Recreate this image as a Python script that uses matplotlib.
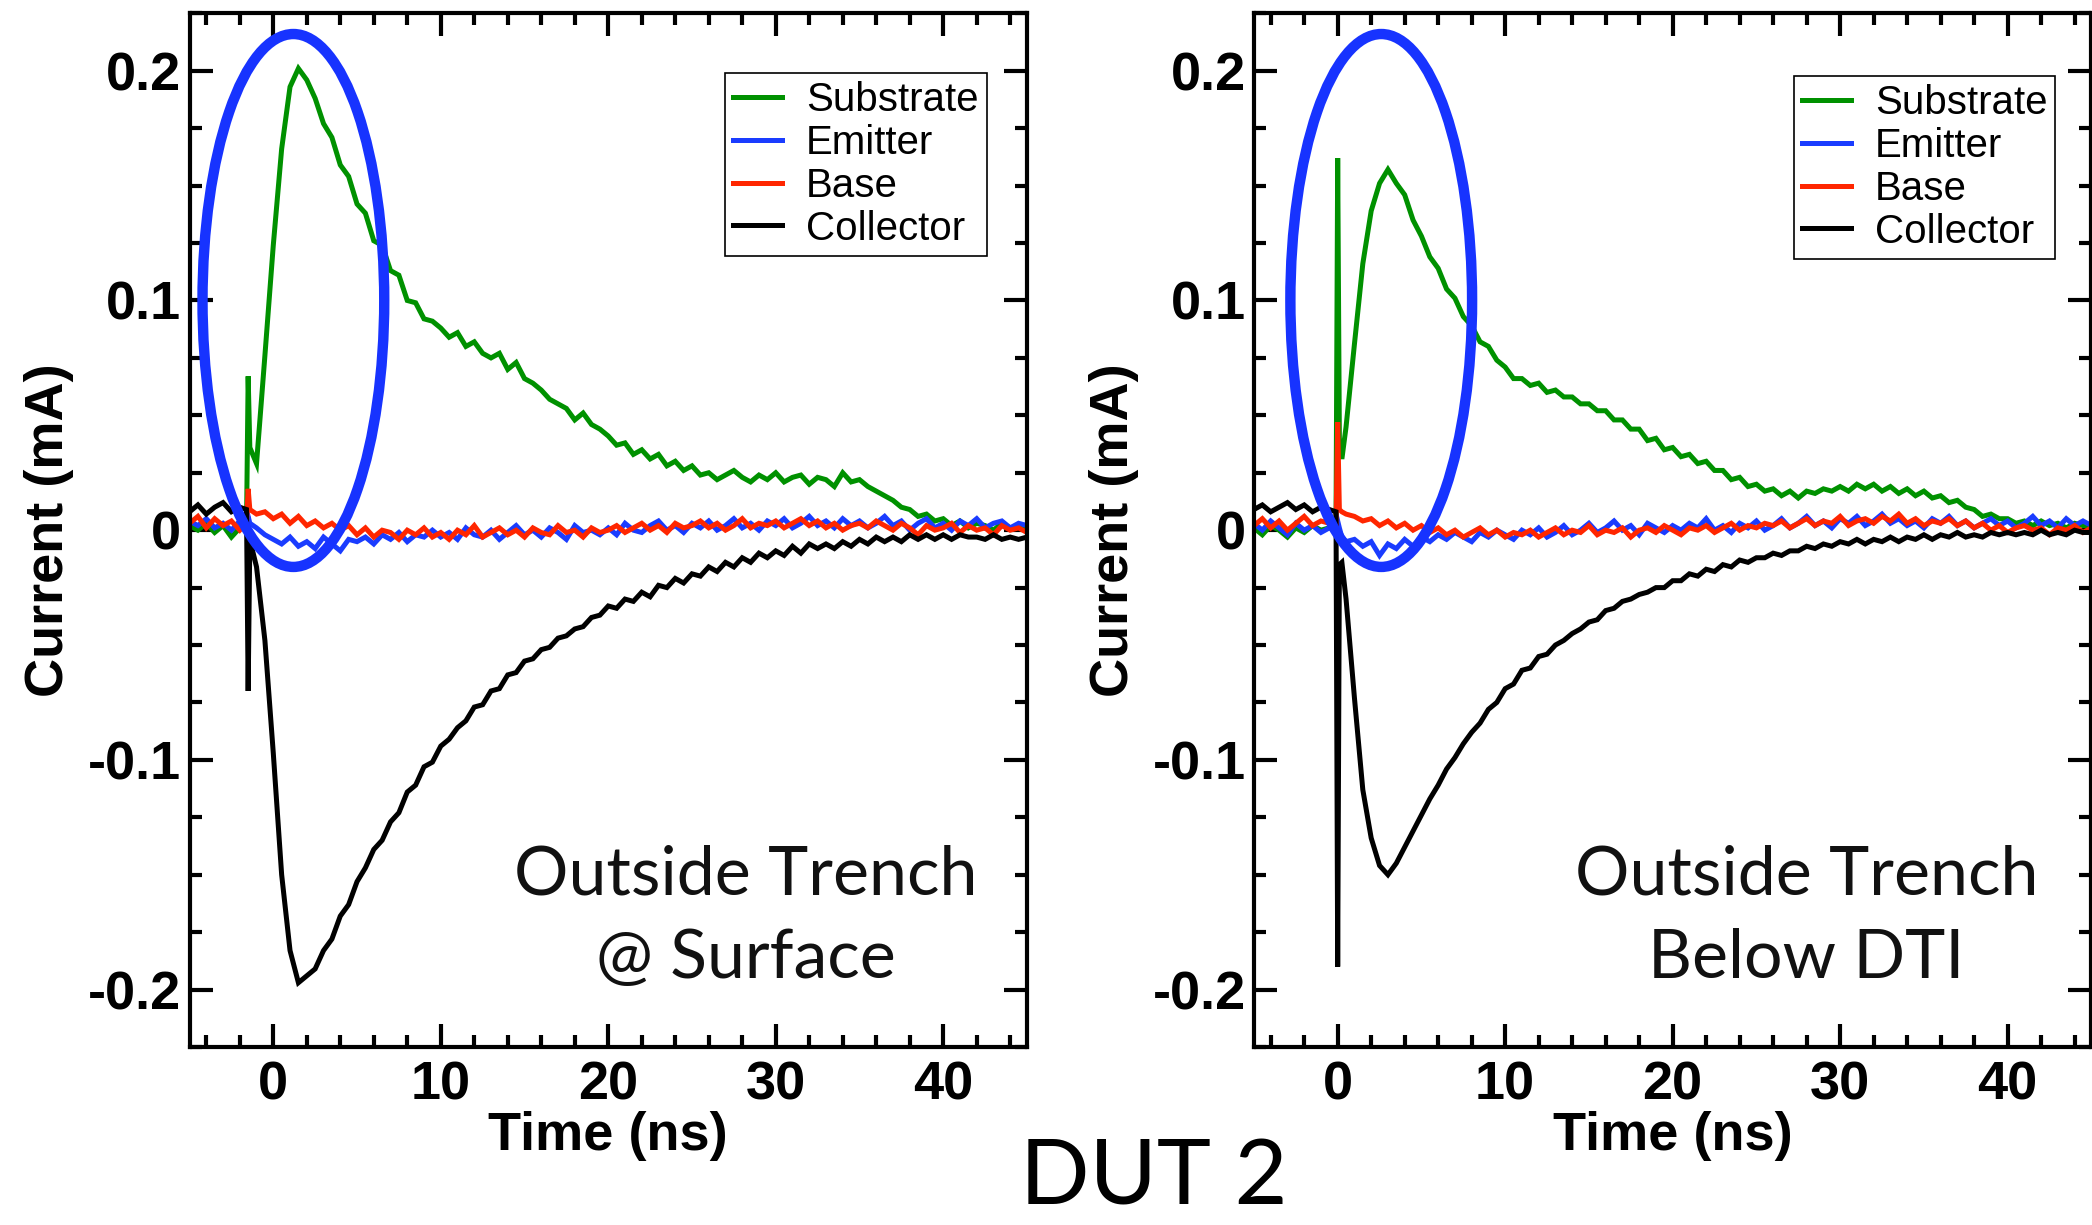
import numpy as np
import matplotlib
matplotlib.use("Agg")
import matplotlib.pyplot as plt
from matplotlib.patches import Ellipse
from matplotlib.ticker import MultipleLocator

# colours
GREEN = "#009100"
BLUE = "#1a3cff"
RED = "#ff2600"
BLACK = "#000000"
RING = "#1733ff"

labels = ["Substrate", "Emitter", "Base", "Collector"]

# ---------------- left panel (Outside Trench @ Surface) ----------------
# time grid in ns; values below are in units of 1e-3 mA
t_left = np.r_[np.arange(-5.0, -1.9, 0.5), [-1.6, -1.5, -1.4, -1.0, -0.5], np.arange(0.0, 45.1, 0.5)]

sub_left = [2, 0, 3, -1, 2, -3, 1,
            1, 67, 36, 29, 76,
            124, 166, 193, 201, 196, 188, 177, 171, 159, 154,
            142, 138, 126, 124, 113, 111, 100, 99, 92, 91,
            88, 84, 86, 80, 82, 77, 75, 77, 70, 73,
            66, 64, 61, 57, 55, 53, 48, 51, 46, 44,
            41, 37, 38, 33, 35, 31, 33, 28, 30, 26,
            28, 24, 25, 22, 24, 26, 23, 21, 24, 22,
            25, 21, 23, 24, 20, 23, 22, 19, 25, 21,
            22, 19, 17, 15, 13, 10, 9, 6, 7, 4,
            5, 2, 4, 1, 3, 2, 0, 3, 1, 2, 1]

emi_left = [4, 2, 5, 1, 3, 0, 4,
            2, 6, 3, 1, -2,
            -4, -6, -3, -7, -5, -8, -3, -6, -9, -4,
            -5, -3, -6, -2, -4, -1, -5, -2, -3, 0,
            -3, -1, -4, 1, -2, -3, 0, -4, -1, 2,
            -2, 0, -3, 1, -1, -4, 2, -1, 0, -2,
            1, -2, 3, 0, -1, 2, 4, 0, 2, -1,
            3, 1, 4, 0, 2, 5, 1, 3, 0, 4,
            2, 5, 1, 3, 6, 2, 4, 1, 5, 2,
            4, 1, 3, 6, 2, 4, 0, 3, 5, 1,
            3, 0, 4, 2, 5, 1, 3, 4, 1, 3, 2]

base_left = [3, 6, 1, 5, 2, 4, 0,
             3, 18, 9, 7, 8,
             5, 7, 3, 6, 2, 4, 1, 3, 0, 2,
             -2, 1, -3, 0, -1, -4, 0, -2, 1, -3,
             -1, -4, 0, -2, 2, -3, -1, 1, -2, 0,
             -3, 1, -1, -2, 2, -1, 0, -3, 1, -1,
             0, 2, -1, 1, 3, 0, 2, -1, 3, 1,
             2, 4, 1, 3, 0, 2, 5, 1, 3, 2,
             4, 1, 3, 5, 2, 4, 1, 3, 0, 2,
             3, 1, 4, 2, 0, 3, 1, -2, 2, 0,
             1, 3, -1, 2, 0, 1, -2, 2, 0, 1, -1]

col_left = [8, 11, 7, 10, 12, 8, 10,
            9, -70, -4, -16, -48,
            -97, -150, -183, -197, -194, -191, -183, -178, -168, -163,
            -153, -147, -139, -135, -127, -123, -114, -111, -103, -101,
            -94, -91, -86, -83, -77, -76, -70, -69, -63, -62,
            -57, -56, -52, -51, -47, -46, -43, -42, -38, -37,
            -33, -34, -30, -31, -27, -29, -24, -25, -21, -23,
            -19, -20, -16, -18, -14, -16, -12, -14, -10, -12,
            -9, -11, -7, -10, -6, -8, -6, -8, -5, -7,
            -4, -6, -3, -5, -3, -5, -2, -4, -2, -4,
            -2, -4, -2, -3, -3, -4, -2, -4, -3, -4, -3]

# ---------------- right panel (Outside Trench Below DTI) ----------------
t_right = np.r_[np.arange(-5.0, -0.4, 0.5), [-0.1, 0.0, 0.1, 0.25, 0.5], np.arange(1.0, 45.1, 0.5)]

sub_right = [1, -2, 2, 0, -3, 1, -1, 2, 0, 1,
             2, 162, 40, 31, 45,
             81, 116, 139, 151, 157, 151, 146, 135, 128, 119,
             114, 105, 101, 93, 89, 82, 80, 74, 71, 66,
             66, 63, 64, 60, 61, 58, 58, 55, 55, 52,
             52, 48, 48, 44, 44, 39, 40, 35, 36, 32,
             33, 29, 30, 26, 26, 22, 23, 19, 20, 17,
             18, 15, 17, 14, 17, 16, 18, 17, 19, 17,
             20, 18, 20, 17, 19, 16, 18, 15, 17, 14,
             15, 12, 13, 10, 9, 6, 7, 5, 5, 3,
             4, 2, 4, 2, 3, 1, 3, 2, 2]

emi_right = [3, 0, 4, 1, -2, 3, 0, 2, -1, 1,
             2, 4, 1, -3, -5,
             -4, -7, -5, -11, -6, -8, -4, -7, -3, -5,
             -2, -4, -1, -3, -5, -1, -3, 0, -2, -4,
             0, -2, 1, -3, -1, 2, -2, 0, 3, -1,
             1, 4, 0, 2, -2, 3, 1, -1, 2, 0,
             3, 1, 5, 0, 2, -1, 3, 1, 4, 0,
             2, 5, 1, 3, 6, 2, 4, 1, 5, 3,
             6, 2, 4, 7, 3, 5, 2, 4, 1, 5,
             3, 6, 2, 4, 1, 3, 5, 2, 4, 1,
             3, 6, 2, 4, 1, 5, 2, 4, 2]

base_right = [2, 5, 1, 4, 0, 3, 6, 2, 4, 3,
              3, 47, 9, 8, 7,
              6, 4, 5, 2, 4, 1, 3, 0, 2, -1,
              1, -2, 0, -3, -1, 1, -2, 0, -3, -1,
              -2, 0, -3, -1, 1, -2, 0, -1, 2, -2,
              0, -1, 1, -3, 0, 1, -1, 2, 0, -2,
              1, 0, 2, -1, 1, 3, 0, 2, 1, 3,
              2, 4, 1, 3, 5, 2, 4, 3, 6, 2,
              4, 5, 3, 6, 4, 7, 3, 5, 2, 4,
              3, 5, 2, 4, 1, 3, 0, 2, -1, 1,
              2, 0, 1, -2, 1, 0, 2, -1, 1]

col_right = [9, 11, 8, 10, 12, 9, 11, 8, 10, 9,
             8, -190, -15, -14, -30,
             -73, -113, -134, -146, -150, -145, -138, -131, -124, -117,
             -111, -104, -99, -93, -88, -84, -78, -75, -69, -67,
             -61, -60, -55, -54, -50, -48, -45, -43, -40, -39,
             -35, -34, -31, -30, -28, -27, -25, -25, -22, -22,
             -19, -20, -17, -18, -15, -16, -13, -14, -12, -12,
             -10, -11, -9, -9, -7, -8, -6, -7, -5, -6,
             -4, -6, -4, -5, -3, -5, -3, -4, -2, -4,
             -2, -3, -1, -3, -2, -3, -1, -2, -1, -2,
             -1, -2, 0, -2, -1, -2, 0, -1, -1]

panels = [
    dict(t=t_left, series=[sub_left, emi_left, base_left, col_left],
         ring=(1.2, 0.1), note=("Outside Trench", "@ Surface"), note_x=28.2,
         legend_anchor=(0.9517, 0.9423), left=0.0906),
    dict(t=t_right, series=[sub_right, emi_right, base_right, col_right],
         ring=(2.6, 0.1), note=("Outside Trench", "Below DTI"), note_x=28.0,
         legend_anchor=(0.957, 0.9394), left=0.5994),
]

TICK_FONT = dict(family="Liberation Sans", weight="bold", size=39)
LABEL_FONT = dict(family="Liberation Sans", weight="bold", size=39)
NOTE_FONT = ["Lato", "DejaVu Sans"]

fig = plt.figure(figsize=(20.92, 12.25), dpi=100)

for p in panels:
    ax = fig.add_axes([p["left"], 0.1453, 0.4003, 0.8438])
    for vals, lab, c in zip(p["series"], labels, [GREEN, BLUE, RED, BLACK]):
        ax.plot(p["t"], np.array(vals) / 1000.0, color=c, lw=3.6, label=lab,
                solid_joinstyle="miter")

    ax.set_xlim(-5, 45)
    ax.set_ylim(-0.225, 0.225)
    ax.xaxis.set_major_locator(MultipleLocator(10))
    ax.xaxis.set_minor_locator(MultipleLocator(2))
    ax.yaxis.set_major_locator(MultipleLocator(0.1))
    ax.yaxis.set_minor_locator(MultipleLocator(0.025))
    ax.set_yticks([-0.2, -0.1, 0, 0.1, 0.2])
    ax.set_yticklabels(["-0.2", "-0.1", "0", "0.1", "0.2"])
    ax.tick_params(which="both", direction="in", top=True, right=True, width=3)
    ax.tick_params(which="major", length=16.5)
    ax.tick_params(which="minor", length=8.3)
    ax.tick_params(axis="y", pad=6)
    ax.tick_params(axis="x", pad=10)
    for lbl in ax.get_xticklabels() + ax.get_yticklabels():
        lbl.set_fontproperties(TICK_FONT)
    for s in ax.spines.values():
        s.set_linewidth(3)

    ax.set_xlabel("Time (ns)", fontdict=LABEL_FONT, labelpad=0)
    ax.set_ylabel("Current (mA)", fontdict=LABEL_FONT, labelpad=10)

    ring = Ellipse(p["ring"], 10.85, 0.232, fill=False, edgecolor=RING, lw=7.5, zorder=5)
    ax.add_patch(ring)

    ax.text(p["note_x"], -0.1586, p["note"][0], ha="center", va="baseline",
            fontsize=49, family=NOTE_FONT, color="#111111")
    ax.text(p["note_x"], -0.195, p["note"][1], ha="center", va="baseline",
            fontsize=49, family=NOTE_FONT, color="#111111")

    leg = ax.legend(loc="upper right", bbox_to_anchor=p["legend_anchor"], borderaxespad=0,
                    prop=dict(family="Liberation Sans", size=29), fancybox=False,
                    framealpha=1, edgecolor="black", handlelength=1.2,
                    handletextpad=0.6, labelspacing=0.12, borderpad=0.2)
    leg.get_frame().set_linewidth(1.2)
    leg.set_zorder(6)

fig.text(0.5514, 0.017, "DUT 2", ha="center", va="baseline", fontsize=66,
         family=NOTE_FONT, color="black")

fig.savefig("out.png", dpi=100)
